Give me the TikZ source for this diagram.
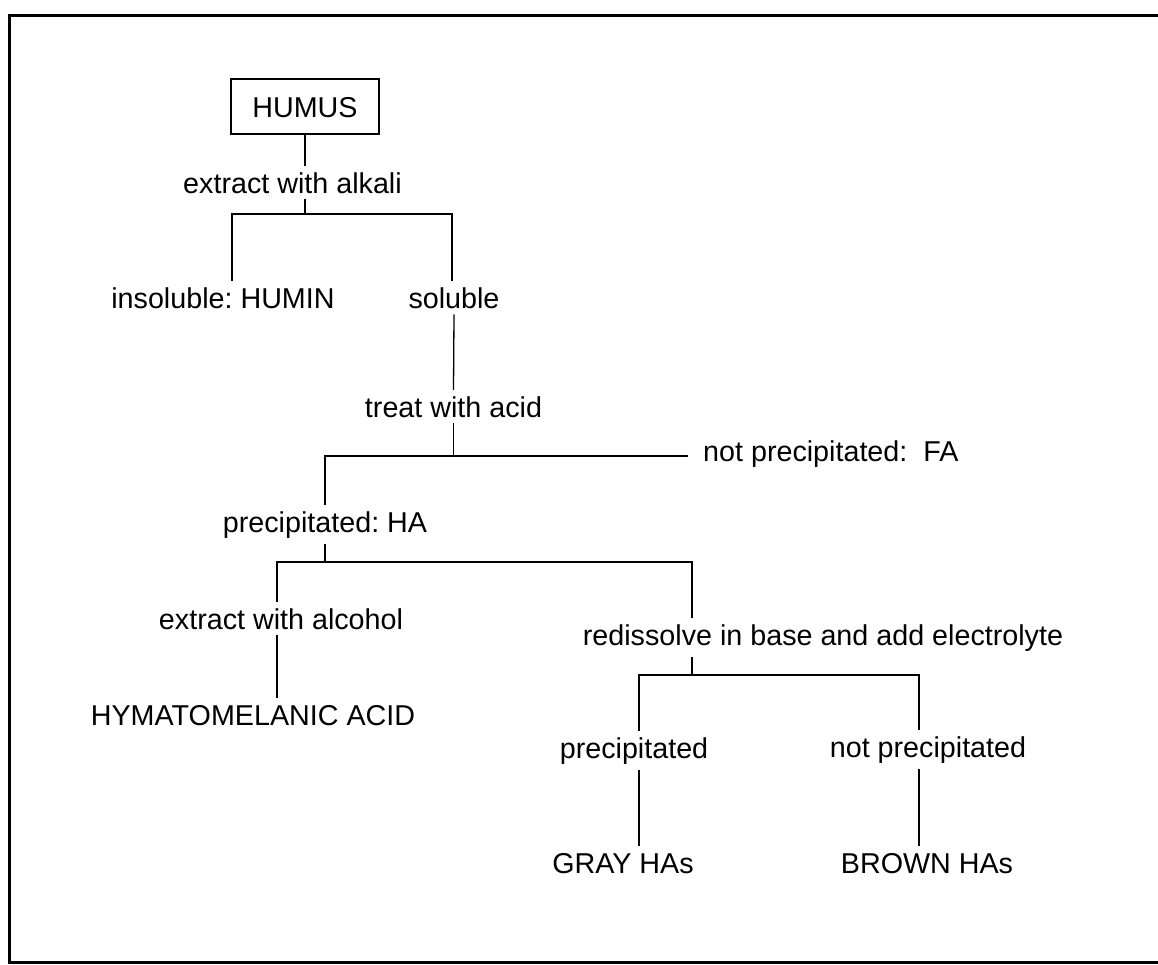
\documentclass[tikz,border=0pt]{standalone}
\usepackage{fontspec}
\setmainfont{Liberation Sans}
\usepackage{tikz}
\usetikzlibrary{positioning, calc}
\frenchspacing

\begin{document}
\begin{tikzpicture}[x=1pt, y=-1pt,
    lbl/.style={inner xsep=0pt, inner ysep=6pt, text height=21pt, anchor=base,
      font=\fontsize{28.7pt}{34pt}\selectfont},
    box/.style={lbl, draw, line width=1.2pt, anchor=center, inner sep=0pt,
      minimum width=148pt, minimum height=55pt, text height=21pt, text depth=0pt},
    link/.style={line width=1.3pt},
    frame/.style={line width=3pt}]
  \useasboundingbox (0,0) rectangle (1158,964);
  \draw[frame] (1158,15) -- (9,15) -- (9,962) -- (1158,962);

  % stages and products
  \node[box] (humus) at (305,106.5) {HUMUS};
  \node[lbl] (alkali) at (292.5,193) {extract with alkali};
  \node[lbl] (humin) at (223,308) {insoluble: HUMIN};
  \node[lbl] (soluble) at (454,308) {soluble};
  \node[lbl] (acid) at (453.5,417) {treat with acid};
  \node[lbl, anchor=base west] (fa) at (703,461) {not precipitated:\ \ FA};
  \node[lbl] (ha) at (325,532) {precipitated: HA};
  \node[lbl] (alcohol) at (281,629) {extract with alcohol};
  \node[lbl] (hyma) at (253,725) {HYMATOMELANIC ACID};
  \node[lbl] (redis) at (823,645) {redissolve in base and add electrolyte};
  \node[lbl] (precip) at (634,758) {precipitated};
  \node[lbl] (notprecip) at (928,757) {not precipitated};
  \node[lbl] (gray) at (623,873) {GRAY HAs};
  \node[lbl] (brown) at (927,873) {BROWN HAs};

  % forks
  \coordinate (a1) at (232,214);
  \coordinate (a2) at (452,214);
  \coordinate (b1) at (325,456);
  \coordinate (b2) at (688,456);
  \coordinate (c1) at (277,562);
  \coordinate (c2) at (692,562);
  \coordinate (d1) at (639,675);
  \coordinate (d2) at (919,675);

  \draw[link] (humus.south) -- (humus.south |- alkali.north);
  \draw[link] (alkali.south -| humus) -- (a1 -| humus);
  \draw[link] (a1 |- humin.north) -- (a1) -- (a2) -- (a2 |- soluble.north);
  \draw[link] (soluble.south) -- (acid.north);
  \draw[link] (acid.south) -- (acid.south |- b1);
  \draw[link] (b1 |- ha.north) -- (b1) -- (b2);
  \draw[link] (ha.south) -- (ha.south |- c1);
  \draw[link] (c1 |- alcohol.north) -- (c1) -- (c2) -- (c2 |- redis.north);
  \draw[link] (c1 |- alcohol.south) -- (c1 |- hyma.north);
  \draw[link] (c2 |- redis.south) -- (c2 |- d1);
  \draw[link] (d1 |- precip.north) -- (d1) -- (d2) -- (d2 |- notprecip.north);
  \draw[link] (d1 |- precip.south) -- (d1 |- gray.north);
  \draw[link] (d2 |- notprecip.south) -- (d2 |- brown.north);
\end{tikzpicture}
\end{document}
